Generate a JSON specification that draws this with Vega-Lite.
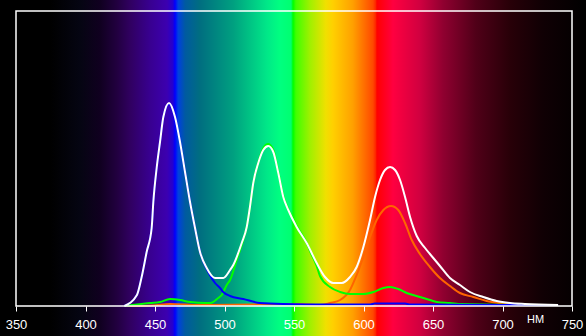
{
  "$schema": "https://vega.github.io/schema/vega-lite/v6.json",
  "width": 556,
  "height": 295,
  "autosize": {"type": "none"},
  "padding": {"left": 16, "top": 11, "right": 14, "bottom": 30},
  "background": "#000000",
  "config": {
    "view": {"stroke": null},
    "font": "Liberation Sans"
  },
  "resolve": {"axis": {"x": "independent", "y": "independent"}},
  "datasets": {
    "spec": [
      {"s":"R","wl":428,"v":0},{"s":"R","wl":447.6,"v":0.5},{"s":"R","wl":460.8,"v":2},{"s":"R","wl":482.4,"v":1},{"s":"R","wl":525.5,"v":1.5},{"s":"R","wl":554.3,"v":2},{"s":"R","wl":568.7,"v":1},{"s":"R","wl":575.9,"v":3},{"s":"R","wl":583.2,"v":6},{"s":"R","wl":590.3,"v":16},{"s":"R","wl":595.1,"v":31},{"s":"R","wl":599.9,"v":49},{"s":"R","wl":604.7,"v":69},{"s":"R","wl":609.5,"v":86},{"s":"R","wl":614.3,"v":96},{"s":"R","wl":619.8,"v":100},{"s":"R","wl":625,"v":96},{"s":"R","wl":629.9,"v":83},{"s":"R","wl":634.7,"v":66},{"s":"R","wl":640.6,"v":52},{"s":"R","wl":647.8,"v":39},{"s":"R","wl":655,"v":28},{"s":"R","wl":662.2,"v":20},{"s":"R","wl":669.4,"v":13},{"s":"R","wl":679,"v":9},{"s":"R","wl":688.6,"v":5},{"s":"R","wl":698.2,"v":3},{"s":"R","wl":706.6,"v":2},
      {"s":"G","wl":428,"v":0},{"s":"G","wl":446.4,"v":3},{"s":"G","wl":453.6,"v":4},{"s":"G","wl":460.8,"v":7},{"s":"G","wl":468,"v":6},{"s":"G","wl":475.2,"v":4},{"s":"G","wl":487.2,"v":3},{"s":"G","wl":490,"v":3},{"s":"G","wl":495.5,"v":8},{"s":"G","wl":498,"v":11},{"s":"G","wl":501.6,"v":21},{"s":"G","wl":504,"v":26},{"s":"G","wl":508.8,"v":46},{"s":"G","wl":513.5,"v":66},{"s":"G","wl":516,"v":79},{"s":"G","wl":518.3,"v":99},{"s":"G","wl":520.7,"v":123},{"s":"G","wl":524.3,"v":143},{"s":"G","wl":527.9,"v":158},{"s":"G","wl":531.5,"v":162},{"s":"G","wl":535.1,"v":156},{"s":"G","wl":538.7,"v":134},{"s":"G","wl":542.3,"v":110},{"s":"G","wl":545.9,"v":97},{"s":"G","wl":551.9,"v":80},{"s":"G","wl":559.1,"v":63},{"s":"G","wl":561.5,"v":55},{"s":"G","wl":566.3,"v":40},{"s":"G","wl":568.7,"v":30},{"s":"G","wl":575.9,"v":19},{"s":"G","wl":583.2,"v":14},{"s":"G","wl":590.3,"v":12},{"s":"G","wl":599.9,"v":12},{"s":"G","wl":607.1,"v":14},{"s":"G","wl":614.3,"v":18},{"s":"G","wl":619.1,"v":19},{"s":"G","wl":625,"v":17},{"s":"G","wl":631.1,"v":13},{"s":"G","wl":640.6,"v":9},{"s":"G","wl":647.8,"v":6},{"s":"G","wl":652.7,"v":4},{"s":"G","wl":662.2,"v":3},{"s":"G","wl":670.6,"v":2},{"s":"G","wl":716,"v":1},
      {"s":"B","wl":428,"v":0},{"s":"B","wl":437,"v":11},{"s":"B","wl":440.4,"v":29},{"s":"B","wl":444,"v":54},{"s":"B","wl":447.6,"v":78},{"s":"B","wl":448.8,"v":104},{"s":"B","wl":451.2,"v":138},{"s":"B","wl":453.6,"v":164},{"s":"B","wl":456,"v":189},{"s":"B","wl":460.1,"v":202},{"s":"B","wl":464.4,"v":189},{"s":"B","wl":468,"v":164},{"s":"B","wl":471.6,"v":134},{"s":"B","wl":475.2,"v":104},{"s":"B","wl":478.8,"v":78},{"s":"B","wl":482.4,"v":54},{"s":"B","wl":488.3,"v":34},{"s":"B","wl":493.2,"v":23},{"s":"B","wl":496.8,"v":18},{"s":"B","wl":499.1,"v":14},{"s":"B","wl":504,"v":10},{"s":"B","wl":513.5,"v":7},{"s":"B","wl":525.5,"v":3},{"s":"B","wl":542.3,"v":2},{"s":"B","wl":575.9,"v":1.5},{"s":"B","wl":605,"v":1.5},{"s":"B","wl":608,"v":2.5},{"s":"B","wl":630,"v":2.5},{"s":"B","wl":633,"v":1.5},{"s":"B","wl":740,"v":1},
      {"s":"W","wl":428,"v":0},{"s":"W","wl":437,"v":11},{"s":"W","wl":440.4,"v":29},{"s":"W","wl":444,"v":54},{"s":"W","wl":447.6,"v":78},{"s":"W","wl":448.8,"v":104},{"s":"W","wl":451.2,"v":138},{"s":"W","wl":453.6,"v":164},{"s":"W","wl":456,"v":189},{"s":"W","wl":460.1,"v":203},{"s":"W","wl":464.4,"v":189},{"s":"W","wl":468,"v":164},{"s":"W","wl":471.6,"v":134},{"s":"W","wl":475.2,"v":104},{"s":"W","wl":478.8,"v":78},{"s":"W","wl":482.4,"v":54},{"s":"W","wl":487.2,"v":38},{"s":"W","wl":493.2,"v":28},{"s":"W","wl":499.1,"v":28},{"s":"W","wl":504,"v":36},{"s":"W","wl":506.3,"v":41},{"s":"W","wl":512.4,"v":63},{"s":"W","wl":516,"v":79},{"s":"W","wl":518.3,"v":99},{"s":"W","wl":520.7,"v":123},{"s":"W","wl":524.3,"v":143},{"s":"W","wl":527.9,"v":156},{"s":"W","wl":531.5,"v":160},{"s":"W","wl":535.1,"v":154},{"s":"W","wl":538.7,"v":133},{"s":"W","wl":542.3,"v":109},{"s":"W","wl":545.9,"v":96},{"s":"W","wl":551.9,"v":79},{"s":"W","wl":559.1,"v":63},{"s":"W","wl":566.3,"v":43},{"s":"W","wl":572.3,"v":29},{"s":"W","wl":578.3,"v":23},{"s":"W","wl":584.3,"v":23},{"s":"W","wl":590.3,"v":29},{"s":"W","wl":595.1,"v":39},{"s":"W","wl":599.9,"v":59},{"s":"W","wl":604.7,"v":86},{"s":"W","wl":608.3,"v":109},{"s":"W","wl":611.9,"v":126},{"s":"W","wl":615.5,"v":136},{"s":"W","wl":619.1,"v":139},{"s":"W","wl":622.7,"v":136},{"s":"W","wl":626.3,"v":126},{"s":"W","wl":629.9,"v":109},{"s":"W","wl":633.5,"v":89},{"s":"W","wl":638.3,"v":70},{"s":"W","wl":644.3,"v":58},{"s":"W","wl":647.8,"v":52},{"s":"W","wl":651.4,"v":46},{"s":"W","wl":655,"v":40},{"s":"W","wl":662.2,"v":28},{"s":"W","wl":669.4,"v":21},{"s":"W","wl":676.6,"v":14},{"s":"W","wl":686.2,"v":9},{"s":"W","wl":695.8,"v":5},{"s":"W","wl":705.4,"v":3},{"s":"W","wl":716.2,"v":2},{"s":"W","wl":740,"v":1}
    ]
  },
  "encoding": {
    "x": {"type": "quantitative", "scale": {"domain": [350, 750], "nice": false, "zero": false}},
    "y": {"type": "quantitative", "scale": {"domain": [0, 295], "nice": false, "zero": false}}
  },
  "layer": [
    {
      "data": {"values": [{"a": 1}]},
      "mark": {
        "type": "rect",
        "fill": {
          "gradient": "linear", "x1": 0, "y1": 0, "x2": 1, "y2": 0,
          "stops": [
            {"offset": 0, "color": "#000000"},
            {"offset": 0.085, "color": "#000000"},
            {"offset": 0.137, "color": "#050512"},
            {"offset": 0.171, "color": "#100020"},
            {"offset": 0.2, "color": "#220040"},
            {"offset": 0.222, "color": "#300060"},
            {"offset": 0.256, "color": "#380090"},
            {"offset": 0.285, "color": "#3c00b0"},
            {"offset": 0.295, "color": "#2400d0"},
            {"offset": 0.2986, "color": "#0000ff"},
            {"offset": 0.304, "color": "#0040e0"},
            {"offset": 0.316, "color": "#005aa0"},
            {"offset": 0.341, "color": "#006e80"},
            {"offset": 0.398, "color": "#00a080"},
            {"offset": 0.456, "color": "#00e888"},
            {"offset": 0.478, "color": "#00ff80"},
            {"offset": 0.4966, "color": "#00ff70"},
            {"offset": 0.5, "color": "#00ff00"},
            {"offset": 0.505, "color": "#40ff00"},
            {"offset": 0.529, "color": "#a0f000"},
            {"offset": 0.556, "color": "#f0e000"},
            {"offset": 0.568, "color": "#ffd000"},
            {"offset": 0.602, "color": "#ffa000"},
            {"offset": 0.6365, "color": "#ff4800"},
            {"offset": 0.6416, "color": "#ff2000"},
            {"offset": 0.643, "color": "#ff0000"},
            {"offset": 0.6706, "color": "#ff0040"},
            {"offset": 0.7167, "color": "#d00040"},
            {"offset": 0.756, "color": "#900030"},
            {"offset": 0.812, "color": "#500018"},
            {"offset": 0.87, "color": "#280008"},
            {"offset": 0.9266, "color": "#100004"},
            {"offset": 1, "color": "#000000"}
          ]
        }
      },
      "encoding": {
        "x": {"datum": 338.49, "axis": null},
        "x2": {"datum": 760.07},
        "y": {"datum": -30, "axis": null},
        "y2": {"datum": 306}
      }
    },
    {
      "data": {"name": "spec"},
      "transform": [{"filter": "datum.s === 'R'"}],
      "mark": {"type": "line", "stroke": "#ff6400", "strokeWidth": 2, "interpolate": "monotone"},
      "encoding": {"x": {"field": "wl", "axis": null}, "y": {"field": "v", "axis": null}}
    },
    {
      "data": {"name": "spec"},
      "transform": [{"filter": "datum.s === 'G'"}],
      "mark": {"type": "line", "stroke": "#00ff00", "strokeWidth": 2, "interpolate": "monotone"},
      "encoding": {"x": {"field": "wl", "axis": null}, "y": {"field": "v", "axis": null}}
    },
    {
      "data": {"name": "spec"},
      "transform": [{"filter": "datum.s === 'B'"}],
      "mark": {"type": "line", "stroke": "#0000ff", "strokeWidth": 2, "interpolate": "monotone"},
      "encoding": {"x": {"field": "wl", "axis": null}, "y": {"field": "v", "axis": null}}
    },
    {
      "data": {"name": "spec"},
      "transform": [{"filter": "datum.s === 'W'"}],
      "mark": {"type": "line", "stroke": "#ffffff", "strokeWidth": 2, "interpolate": "monotone"},
      "encoding": {
        "x": {"field": "wl", "title": "НМ",
          "axis": {"values": [350, 400, 450, 500, 550, 600, 650, 700, 750], "domain": false, "grid": false,
            "labelColor": "#ffffff", "labelFont": "Liberation Sans", "labelFontSize": 13, "labelPadding": 7, "labelFlush": false,
            "tickColor": "#ffffff", "tickSize": 5, "tickWidth": 1,
            "titleColor": "#ffffff", "titleFont": "Liberation Sans", "titleFontSize": 11, "titleFontWeight": "normal",
            "titleX": 519, "titleY": 13, "titleBaseline": "middle", "titleAlign": "center", "zindex": 1}},
        "y": {"field": "v", "axis": null}
      }
    },
    {
      "data": {"values": [{"a": 1}]},
      "mark": {"type": "rect", "filled": false, "stroke": "#ffffff", "strokeWidth": 1.5},
      "encoding": {
        "x": {"datum": 350, "axis": null},
        "x2": {"datum": 750},
        "y": {"datum": 0, "axis": null},
        "y2": {"datum": 295}
      }
    }
  ]
}
